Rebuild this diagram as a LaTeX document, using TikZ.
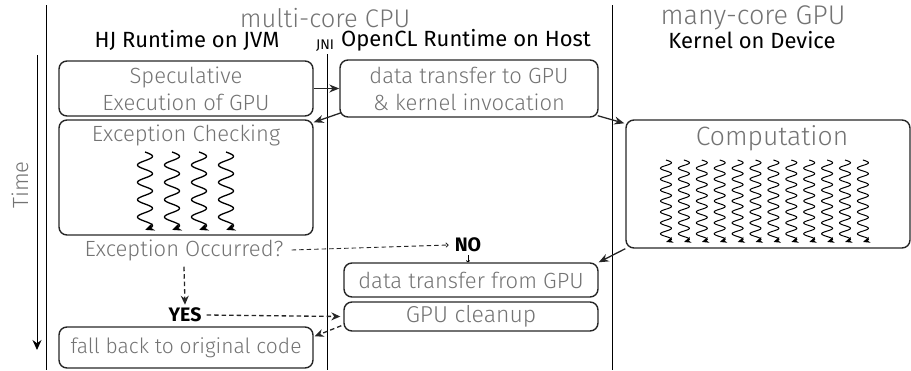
\documentclass[tikz,border=0pt]{standalone}
\usepackage{fontspec}
\setmainfont{Fira Sans}
\newfontfamily\lightfont{Fira Sans Light}
\usetikzlibrary{arrows.meta,calc}
\definecolor{txtgray}{HTML}{737373}
\definecolor{boxline}{HTML}{262626}
\newcommand{\fsz}[1]{\fontsize{#1}{27}\selectfont}
\begin{document}
\begin{tikzpicture}[x=1pt,y=-1pt,
  procbox/.style={draw=boxline, line width=1.4pt, rounded corners=8pt,
    text=txtgray, font=\lightfont\fsz{22},
    align=center, inner sep=0pt},
  graytext/.style={text=txtgray, font=\lightfont\fsz{22}, inner sep=0pt},
  titletext/.style={text=txtgray, font=\lightfont\fsz{25.5}, inner sep=0pt},
  headtext/.style={text=black, font=\fsz{22}, inner sep=0pt},
  choice/.style={text=black, font=\bfseries\fsz{19.5}, inner sep=0pt},
  divider/.style={line width=1pt, black},
  flow/.style={line width=1.3pt, boxline, -{Stealth[length=10pt,width=8pt]}},
  dflow/.style={line width=1.3pt, boxline, dash pattern=on 4.5pt off 3pt, -{Stealth[length=9pt,width=8pt]}},
  thinflow/.style={line width=0.9pt, boxline, dash pattern=on 4.5pt off 3pt, -{To[length=3pt,width=5pt]}},
  thread/.style={line width=1.3pt, black, -{Stealth[length=9pt,width=8pt]}},
  wthread/.style={line width=1pt, black, -{Stealth[length=7pt,width=6pt]}}
]
\useasboundingbox (0,0) rectangle (911,370);

% column dividers
\coordinate (lt) at (46,5);   \coordinate (lb) at (46,370);
\coordinate (mt) at (327,54); \coordinate (mb) at (327,370);
\coordinate (rt) at (612,5);  \coordinate (rb) at (612,370);
\draw[divider] (lt) -- (lb);
\draw[divider] (mt) -- (mb);
\draw[divider] (rt) -- (rb);

% time axis
\node[graytext, rotate=90] (time) at (20,185) {Time};
\coordinate (ttop) at (37,55);
\coordinate (tbot) at (37,350);
\draw[line width=1pt, -{Stealth[length=10pt,width=9pt]}] (ttop) -- (tbot);

% headings
\node[titletext] (cpu) at (325,18) {multi-core CPU};
\node[titletext, font=\lightfont\fsz{27}] (gpu) at (753,18) {many-core GPU};
\node[headtext] (hj) at (187,40) {HJ Runtime on JVM};
\node[headtext] (ocl) at (466,40) {OpenCL Runtime on Host};
\node[headtext] (kern) at (752,40) {Kernel on Device};
\node[text=black, font=\fsz{14}, inner sep=0pt] (jni) at (325,46) {JNI};

% boxes
\node[procbox, minimum width=254pt, minimum height=55pt] (spec) at (186,88.5)
  {Speculative\\Execution of GPU};
\node[procbox, minimum width=258pt, minimum height=57pt] (dtg) at (469,88.5)
  {data transfer to GPU\\\& kernel invocation};
\node[procbox, minimum width=254pt, minimum height=115pt] (exc) at (186,177.5) {};
\node[graytext] (exctxt) at (186,135) {Exception Checking};
\node[procbox, minimum width=284pt, minimum height=128pt] (comp) at (768,184) {};
\node[titletext, font=\lightfont\fsz{26.5}] (comptxt) at (772,138) {Computation};
\node[procbox, minimum width=254pt, minimum height=34pt] (dfg) at (471,280)
  {data transfer from GPU};
\node[procbox, minimum width=254pt, minimum height=29pt, font=\lightfont\fsz{23}] (clean) at (471,316.5)
  {GPU cleanup};
\node[procbox, minimum width=254pt, minimum height=41pt, font=\lightfont\fsz{21}] (fall) at (186,347.5)
  {fall back to original code};

% decision
\node[graytext] (occ) at (184,250) {Exception Occurred?};
\node[choice] (yes) at (185,315) {YES};
\node[choice] (no) at (468,245) {NO};

% threads: wavy arrows drawn as sine plots
\foreach \cx in {145,172,199,226}
  \draw[thread] plot[domain=0:1, samples=120, variable=\t]
    ({\cx + 7.5*sin(1620*\t)}, {152 + 78*\t});
\foreach \i in {0,...,11}
  \draw[wthread] plot[domain=0:1, samples=160, variable=\t]
    ({666 + 17.9*\i + 5.5*sin(2700*\t)}, {160 + 82*\t});

% control flow
\draw[flow] (spec.east) -- (dtg.west);
\draw[flow] ($(dtg.south west)+(2,-5)$) -- ($(exc.north east)+(0,3)$);
\draw[flow] ($(dtg.south east)+(-1,-2)$) -- ($(comp.north west)+(-1,4)$);
\draw[flow] (comp.south west) -- (dfg.north east);
\draw[thinflow] ($(occ.east)+(8,0)$) -- ($(no.west)+(-6,0)$);
\draw[line width=0.8pt, -{To[length=2pt,width=4pt]}] ($(no.south)+(0,3)$) -- (no.south |- dfg.north);
\draw[dflow] ($(occ.south)+(0,6)$) -- ($(yes.north)+(0,-3)$);
\draw[dflow] ($(yes.east)+(5,0)$) -- ($(clean.west)+(-3,0)$);
\draw[dflow] ($(clean.south west)+(-2,-6)$) -- ($(fall.north east)+(1,10)$);
\end{tikzpicture}
\end{document}
